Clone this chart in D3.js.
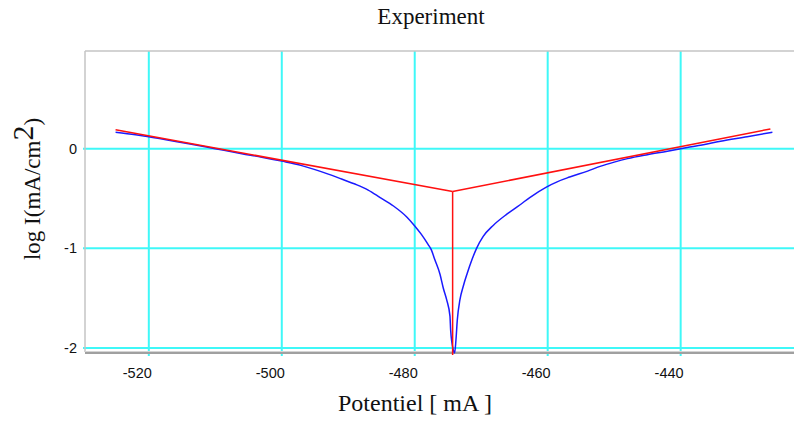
<!DOCTYPE html>
<html>
<head>
<meta charset="utf-8">
<script src="https://cdn.jsdelivr.net/npm/d3@7/dist/d3.min.js"></script>
<style>
  html, body { margin: 0; padding: 0; background: #fff; }
  svg { display: block; }
</style>
</head>
<body>
<svg id="chart" width="794" height="421"></svg>
<script>
// Polarisation curve: measured log I vs potential, with Tafel extrapolation
const potential = [
  -525.0, -522.0, -520.0, -517.0, -514.0, -510.0, -506.0, -503.0, -500.0, -497.0,
  -495.0, -493.0, -491.0, -489.0, -487.0, -485.2, -483.2, -481.2, -480.0, -479.0,
  -478.0, -477.5, -477.0, -476.2, -475.7, -475.2, -474.7, -474.6, -474.2, -474.0,
  -473.8, -473.6, -473.2, -472.7, -472.1, -471.4, -470.7, -469.7, -468.2, -466.1,
  -464.2, -462.7, -460.2, -458.5, -456.7, -454.0, -452.0, -450.0, -448.0, -445.0,
  -442.0, -440.0, -437.0, -434.0, -430.0, -426.2
];
const logCurrent = [
  0.165, 0.14, 0.12, 0.085, 0.05, 0.0, -0.05, -0.085, -0.125, -0.17,
  -0.21, -0.255, -0.305, -0.355, -0.415, -0.49, -0.575, -0.685, -0.775, -0.86,
  -0.96, -1.015, -1.11, -1.26, -1.40, -1.515, -1.68, -1.82, -2.02, -2.05,
  -1.92, -1.72, -1.515, -1.38, -1.25, -1.115, -1.0, -0.88, -0.77, -0.655,
  -0.565, -0.49, -0.385, -0.33, -0.285, -0.225, -0.175, -0.135, -0.10, -0.06,
  -0.025, 0.0, 0.035, 0.075, 0.12, 0.165
];

// Tafel fit lines and corrosion potential
const cathodicTafel = [[-525.0, 0.19], [-474.3, -0.43]];
const anodicTafel = [[-474.3, -0.43], [-426.5, 0.198]];
const ecorrLine = [[-474.3, -0.43], [-474.3, -2.07]];

const xTicks = [-520, -500, -480, -460, -440];
const yTicks = [0, -1, -2];

const svg = d3.select("#chart");
const plot = { left: 85, top: 51, right: 794, bottom: 352 };

const x = d3.scaleLinear().domain([-529.6, -422.95]).range([plot.left, plot.right]);
const y = d3.scaleLinear().domain([-2.04, 0.98]).range([plot.bottom, plot.top]);

// grid
const grid = svg.append("g").attr("stroke", "#3ff8f8").attr("stroke-width", 2);
grid.selectAll("line.vx").data(xTicks).join("line")
  .attr("x1", d => x(d)).attr("x2", d => x(d))
  .attr("y1", plot.top).attr("y2", plot.bottom + 4);
grid.selectAll("line.hy").data(yTicks).join("line")
  .attr("x1", plot.left - 2).attr("x2", plot.right)
  .attr("y1", d => y(d)).attr("y2", d => y(d));

// frame
svg.append("line").attr("x1", plot.left).attr("x2", plot.right)
  .attr("y1", plot.top).attr("y2", plot.top)
  .attr("stroke", "#c4c4c4").attr("stroke-width", 1.5);
svg.append("line").attr("x1", plot.left).attr("x2", plot.left)
  .attr("y1", plot.top).attr("y2", plot.bottom)
  .attr("stroke", "#c4c4c4").attr("stroke-width", 1.5);
svg.append("line").attr("x1", plot.left).attr("x2", plot.right)
  .attr("y1", plot.bottom - 0.5).attr("y2", plot.bottom - 0.5)
  .attr("stroke", "#d4d4d4").attr("stroke-width", 1);
svg.append("line").attr("x1", plot.left).attr("x2", plot.right)
  .attr("y1", plot.bottom + 1).attr("y2", plot.bottom + 1)
  .attr("stroke", "#a0a0a0").attr("stroke-width", 2);

// tick labels
const sans = "Arial, 'Liberation Sans', sans-serif";
svg.append("g").selectAll("text").data(xTicks).join("text")
  .attr("x", d => x(d) + 3).attr("y", 378)
  .attr("text-anchor", "end")
  .attr("font-family", sans).attr("font-size", 14.5).attr("fill", "#111")
  .text(d => d3.format("d")(d).replace("−", "-"));
svg.append("g").selectAll("text").data(yTicks).join("text")
  .attr("x", 77).attr("y", d => y(d) + 5)
  .attr("text-anchor", "end")
  .attr("font-family", sans).attr("font-size", 14.5).attr("fill", "#111")
  .text(d => d3.format("d")(d).replace("−", "-"));

// curves
const line = d3.line().x(d => x(d[0])).y(d => y(d[1]));
const smooth = d3.line().x(d => x(d[0])).y(d => y(d[1])).curve(d3.curveMonotoneX);
const measured = potential.map((p, i) => [p, logCurrent[i]]);

svg.append("path").datum(measured).attr("d", smooth)
  .attr("fill", "none").attr("stroke", "#1a1aff").attr("stroke-width", 1.5);
[cathodicTafel, anodicTafel, ecorrLine].forEach(seg => {
  svg.append("path").datum(seg).attr("d", line)
    .attr("fill", "none").attr("stroke", "#ff1010").attr("stroke-width", 1.5);
});

// titles
const serif = "'Liberation Serif', 'Times New Roman', serif";
svg.append("text").attr("x", 431).attr("y", 24).attr("text-anchor", "middle")
  .attr("font-family", serif).attr("font-size", 23).attr("fill", "#111")
  .text("Experiment");
svg.append("text").attr("x", 415).attr("y", 411).attr("text-anchor", "middle")
  .attr("font-family", serif).attr("font-size", 24).attr("fill", "#111")
  .text("Potentiel [ mA ]");

const yl = svg.append("text")
  .attr("transform", "translate(40,189) rotate(-90)")
  .attr("text-anchor", "middle")
  .attr("font-family", serif).attr("font-size", 23).attr("fill", "#111");
yl.append("tspan").text("log I(mA/cm");
yl.append("tspan").attr("font-size", 30).attr("dy", -7).text("2");
yl.append("tspan").attr("dy", 7).text(")");
</script>
</body>
</html>
